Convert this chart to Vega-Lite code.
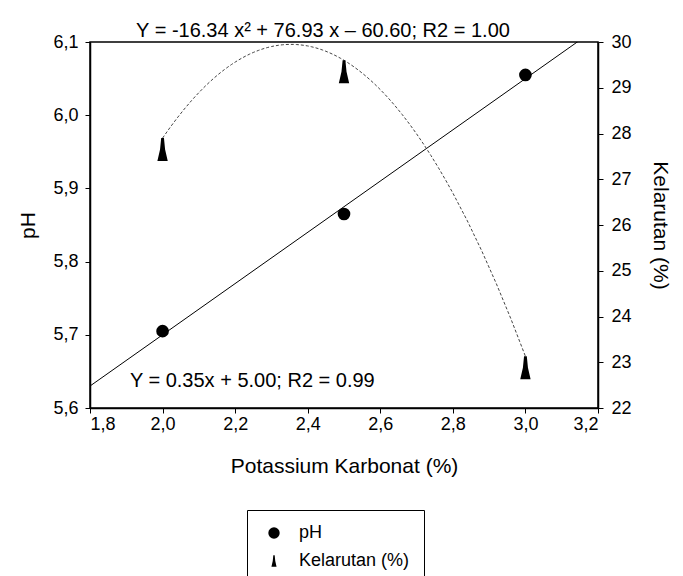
{
  "$schema": "https://vega.github.io/schema/vega-lite/v6.json",
  "autosize": "none",
  "width": 508,
  "height": 366,
  "padding": {"left": 90, "top": 42, "right": 85, "bottom": 168},
  "background": "white",
  "config": {
    "font": "Liberation Sans",
    "view": {"stroke": "black", "strokeWidth": 1.5},
    "axis": {
      "grid": false,
      "domainColor": "black",
      "domainWidth": 1.5,
      "tickColor": "black",
      "tickSize": 5,
      "labelColor": "black",
      "labelFontSize": 18,
      "titleFontSize": 21,
      "titleFontWeight": "normal",
      "titleColor": "black",
      "labelFont": "Liberation Sans",
      "titleFont": "Liberation Sans"
    },
    "legend": {
      "labelFont": "Liberation Sans"
    }
  },
  "title": {
    "text": "Y = -16.34 x² + 76.93 x – 60.60; R2 = 1.00",
    "fontSize": 20,
    "fontWeight": "normal",
    "font": "Liberation Sans",
    "color": "black",
    "anchor": "middle",
    "offset": -8,
    "dx": -21
  },
  "layer": [
    {
      "data": {"values": [
        {"x": 2.0, "pH": 5.705, "series": "pH"},
        {"x": 2.5, "pH": 5.865, "series": "pH"},
        {"x": 3.0, "pH": 6.055, "series": "pH"}
      ]},
      "layer": [
        {
          "transform": [{"regression": "pH", "on": "x", "method": "linear", "extent": [1.8, 3.2]}],
          "mark": {"type": "line", "color": "black", "strokeWidth": 1, "clip": true},
          "encoding": {
            "x": {"field": "x", "type": "quantitative"},
            "y": {"field": "pH", "type": "quantitative"}
          }
        },
        {
          "mark": {"type": "point", "filled": true, "color": "black", "opacity": 1, "size": 160},
          "encoding": {
            "x": {
              "field": "x", "type": "quantitative",
              "scale": {"domain": [1.8, 3.2], "nice": false, "zero": false},
              "axis": {
                "values": [1.8, 2.0, 2.2, 2.4, 2.6, 2.8, 3.0, 3.2],
                "labelExpr": "replace(format(datum.value, '.1f'), '.', ',')",
                "title": "Potassium Karbonat (%)",
                "labelPadding": 2,
                "titlePadding": 22
              }
            },
            "y": {
              "field": "pH", "type": "quantitative",
              "scale": {"domain": [5.6, 6.1], "nice": false, "zero": false},
              "axis": {
                "values": [5.6, 5.7, 5.8, 5.9, 6.0, 6.1],
                "labelExpr": "replace(format(datum.value, '.1f'), '.', ',')",
                "title": "pH",
                "labelPadding": 7,
                "titlePadding": 14
              }
            },
            "shape": {
              "field": "series", "type": "nominal",
              "scale": {"domain": ["pH", "Kelarutan (%)"], "range": ["circle", "M-0.12,-1L0.12,-1L0.22,0L0.45,1L-0.45,1L-0.22,0Z"]},
              "legend": {
                "title": null,
                "orient": "none",
                "legendX": 157,
                "legendY": 468,
                "direction": "vertical",
                "strokeColor": "black",
                "padding": 14,
                "symbolOffset": 4,
                "symbolSize": 130,
                "symbolFillColor": "black",
                "symbolStrokeColor": "black",
                "symbolStrokeWidth": 0,
                "labelFontSize": 18,
                "labelColor": "black",
                "labelOffset": 16,
                "rowPadding": 10,
                "fillColor": "white"
              }
            }
          }
        },
        {
          "data": {"values": [{"label": "Y = 0.35x + 5.00; R2 = 0.99", "lx": 1.91, "ly": 5.637}]},
          "mark": {"type": "text", "align": "left", "baseline": "middle", "fontSize": 20, "color": "black", "font": "Liberation Sans"},
          "encoding": {
            "x": {"field": "lx", "type": "quantitative"},
            "y": {"field": "ly", "type": "quantitative"},
            "text": {"field": "label"}
          }
        }
      ]
    },
    {
      "data": {"values": [
        {"x": 2.0, "kel": 27.90, "series": "Kelarutan (%)"},
        {"x": 2.5, "kel": 29.60, "series": "Kelarutan (%)"},
        {"x": 3.0, "kel": 23.13, "series": "Kelarutan (%)"}
      ]},
      "layer": [
        {
          "transform": [{"regression": "kel", "on": "x", "method": "poly", "order": 2, "extent": [2.0, 3.0]}],
          "mark": {"type": "line", "color": "#444444", "strokeWidth": 1, "strokeDash": [3, 2]},
          "encoding": {
            "x": {"field": "x", "type": "quantitative"},
            "y": {"field": "kel", "type": "quantitative"}
          }
        },
        {
          "mark": {"type": "point", "filled": true, "color": "black", "opacity": 1, "size": 529, "yOffset": 11.5},
          "encoding": {
            "x": {"field": "x", "type": "quantitative"},
            "y": {
              "field": "kel", "type": "quantitative",
              "scale": {"domain": [22, 30], "nice": false, "zero": false},
              "axis": {
                "orient": "right",
                "values": [22, 23, 24, 25, 26, 27, 28, 29, 30],
                "title": "Kelarutan (%)",
                "labelPadding": 8,
                "titlePadding": 18
              }
            },
            "shape": {
              "field": "series", "type": "nominal",
              "scale": {"domain": ["pH", "Kelarutan (%)"], "range": ["circle", "M-0.12,-1L0.12,-1L0.22,0L0.45,1L-0.45,1L-0.22,0Z"]}
            }
          }
        }
      ]
    }
  ],
  "resolve": {"scale": {"y": "independent"}}
}
